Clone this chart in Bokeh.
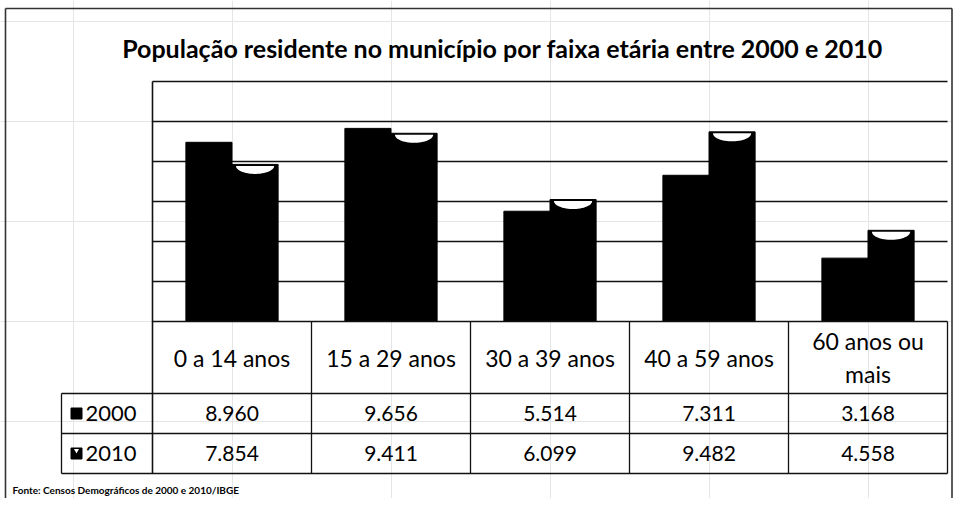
import numpy as np
from bokeh.plotting import figure
from bokeh.models import Range1d, Label
from bokeh.core.properties import value
from bokeh.embed import file_html
from bokeh.resources import INLINE

# ---------------- data ----------------
title_text = "População residente no município por faixa etária entre 2000 e 2010"
categories = ["0 a 14 anos", "15 a 29 anos", "30 a 39 anos", "40 a 59 anos", "60 anos ou\nmais"]
series_names = ["2000", "2010"]
values_2000 = [8960, 9656, 5514, 7311, 3168]
values_2010 = [7854, 9411, 6099, 9482, 4558]
grid_ticks = [2000, 4000, 6000, 8000, 10000, 12000]
source_text = "Fonte: Censos Demográficos de 2000 e 2010/IBGE"

def br(v):
    return f"{v:,}".replace(",", ".")

labels_2000 = [br(v) for v in values_2000]
labels_2010 = [br(v) for v in values_2010]

# ---------------- geometry (picture pixels -> data units) ----------------
W, H = 953, 498
cat_px = 159.0
first_cat_left = 152.0
plot_top, plot_bottom = 81.0, 321.0
ymax = grid_ticks[-1]
upp = ymax / (plot_bottom - plot_top)

def xd(px):
    return (px - first_cat_left) / cat_px - 0.5

def yd(py):
    return (plot_bottom - py) * upp

n = len(categories)
idx = np.arange(n)
bar_w = 0.29
x2000 = idx - bar_w / 2
x2010 = idx + bar_w / 2

FONT = "Lato"
ink = "#111111"

p = figure(width=W, height=H, x_range=Range1d(xd(0), xd(W)),
           y_range=Range1d(yd(H), yd(0)),
           x_axis_location=None, y_axis_location=None, min_border=0,
           toolbar_location=None, output_backend="svg")
p.outline_line_color = None
p.background_fill_color = "white"
p.border_fill_color = "white"

# outer frame (left, top, right)
fx0, fx1, fy0, fy1 = xd(5), xd(W - 1.5), yd(8), yd(H)
p.segment(x0=[fx0, fx0, fx1], x1=[fx0, fx1, fx1], y0=[fy1, fy0, fy0], y1=[fy0, fy0, fy1],
          line_color="#333333", line_width=1.6)

# gridlines
p.segment(x0=[-0.5] * len(grid_ticks), x1=[n - 0.5] * len(grid_ticks),
          y0=grid_ticks, y1=grid_ticks, line_color=ink, line_width=1.6)

# bars
p.vbar(x=x2000, width=bar_w, top=values_2000, bottom=0, fill_color="black", line_color="black")
p.vbar(x=x2010, width=bar_w, top=values_2010, bottom=0, fill_color="black", line_color="black")

# white crescent caps on the 2010 bars
t = np.linspace(np.pi, 2 * np.pi, 30)
a = 0.12
b = 8 * upp
cap_xs = [list(xc + a * np.cos(t)) for xc in x2010]
cap_ys = [list(v - 1.5 * upp + b * np.sin(t)) for v in values_2010]
p.patches(xs=cap_xs, ys=cap_ys, fill_color="white", line_color=None)

# table
row_header_bottom = yd(393)
row1_bottom = yd(433)
row2_bottom = yd(473)
label_left = xd(61)

# plot-area left border (continues as table left border)
p.segment(x0=[-0.5], x1=[-0.5], y0=[ymax], y1=[row2_bottom], line_color=ink, line_width=1.6)
# horizontal table lines
p.segment(x0=[-0.5, label_left, label_left, label_left],
          x1=[n - 0.5] * 4,
          y0=[0, row_header_bottom, row1_bottom, row2_bottom],
          y1=[0, row_header_bottom, row1_bottom, row2_bottom],
          line_color=ink, line_width=1.6)
# vertical table lines
vx = list(idx + 0.5)
p.segment(x0=vx, x1=vx, y0=[0] * n, y1=[row2_bottom] * n, line_color=ink, line_width=1.3)
p.segment(x0=[label_left], x1=[label_left], y0=[row_header_bottom], y1=[row2_bottom],
          line_color=ink, line_width=1.3)

# header text
p.text(x=idx, y=[yd(357)] * n, text=categories, text_align="center", text_baseline="middle",
       text_font=value(FONT), text_font_size="23px", text_color="black", text_line_height=1.2)

# value rows
y_r1 = (row_header_bottom + row1_bottom) / 2
y_r2 = (row1_bottom + row2_bottom) / 2
p.text(x=idx, y=[y_r1] * n, text=labels_2000, text_align="center", text_baseline="middle",
       text_font=value(FONT), text_font_size="21px", text_color="black")
p.text(x=idx, y=[y_r2] * n, text=labels_2010, text_align="center", text_baseline="middle",
       text_font=value(FONT), text_font_size="21px", text_color="black")

# row labels with legend keys
p.text(x=[xd(85)] * 2, y=[y_r1, y_r2], text=series_names, text_align="left", text_baseline="middle",
       text_font=value(FONT), text_font_size="22px", text_color="black")
p.scatter(x=[xd(76)] * 2, y=[y_r1, y_r2], marker="square", size=11, fill_color="black", line_color="black")
p.scatter(x=[xd(76)], y=[y_r2 + 3 * upp], marker="inverted_triangle", size=5,
          fill_color="white", line_color=None)

# title
p.add_layout(Label(x=xd(502), y=yd(47), text=title_text, text_align="center", text_baseline="middle",
                   text_font=FONT, text_font_style="bold", text_font_size="25px", text_color="black"))
# source
p.add_layout(Label(x=xd(12), y=yd(489), text=source_text, text_align="left", text_baseline="middle",
                   text_font=FONT, text_font_style="bold", text_font_size="10px", text_color="black"))

open("out.html", "w").write(file_html(p, INLINE))
